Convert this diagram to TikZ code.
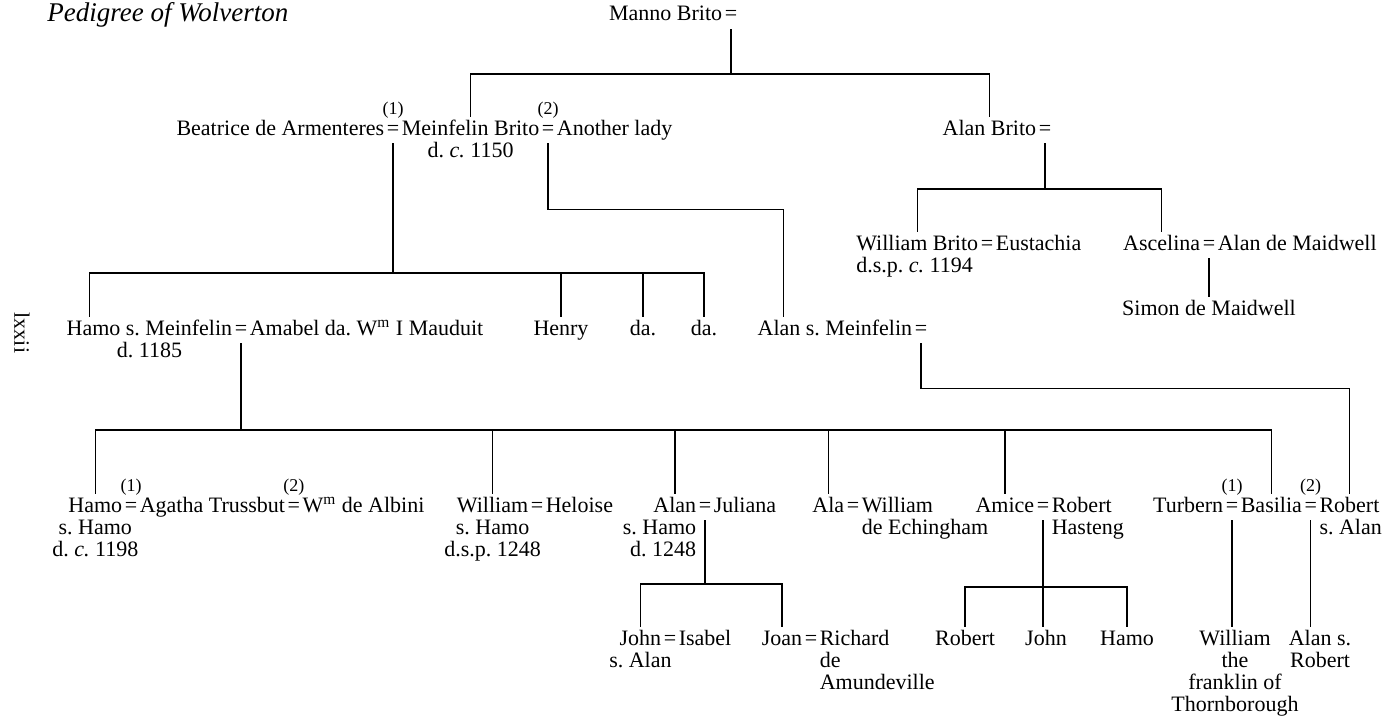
\documentclass[tikz,border=0pt]{standalone}
\usepackage{fontspec}
\setmainfont{Liberation Serif}
\usepackage{tikz}
\usetikzlibrary{positioning}
\frenchspacing

\begin{document}
\begin{tikzpicture}[x=0.5pt,y=-0.5pt,line width=0.7pt,
      font=\fontsize{11}{11}\selectfont,
      person/.style={inner xsep=0.3pt,inner ysep=1.5pt,text height=1.6ex,text depth=0.5ex},
      eq/.style={person}, sub/.style={inner sep=0.3pt},
      marr/.style={font=\fontsize{9}{9}\selectfont,inner sep=0pt}]

    \useasboundingbox (0,0) rectangle (1385,717);
    \node[anchor=base west,font=\fontsize{13.5}{14}\selectfont\itshape] (title) at (40,22) {Pedigree of Wolverton};
    \node[rotate=-90] (folio) at (22,333) {lxxii};

    % bars
    \coordinate (bar1) at (0,74);
    \coordinate (bar2) at (0,273);
    \coordinate (bar3) at (0,430);
    \coordinate (barAB) at (0,189);
    \coordinate (barA) at (0,584);
    \coordinate (barB) at (0,587);

    % first generations
    \node[eq,anchor=base] (mannoeq) at (731,21) {=};
    \node[person,left=0pt of mannoeq] (manno) {Manno Brito};

    \node[eq,anchor=base] (beaeq) at (393,135) {=};
    \node[person,left=0pt of beaeq] (bea) {Beatrice de Armenteres};
    \node[person,right=0pt of beaeq] (meinf) {Meinfelin Brito};
    \node[eq,right=0pt of meinf] (anoeq) {=};
    \node[person,right=0pt of anoeq] (another) {Another lady};
    \node[marr,anchor=base] (m1) at ([yshift=10.5pt]beaeq.base) {(1)};
    \node[marr,anchor=base] (m2) at ([yshift=10.5pt]anoeq.base) {(2)};
    \node[sub,anchor=base] (meinfd) at ([yshift=-11pt]meinf.base) {d. \textit{c.} 1150};

    \node[eq,anchor=base] (alanbeq) at (1045,135) {=};
    \node[person,left=0pt of alanbeq] (alanb) {Alan Brito};

    \node[eq,anchor=base] (wbeq) at (987,250) {=};
    \node[person,left=0pt of wbeq] (wbrito) {William Brito};
    \node[person,right=0pt of wbeq] (eust) {Eustachia};
    \node[sub,anchor=base west] (wbritod) at ([yshift=-11pt]wbrito.base west) {d.s.p. \textit{c.} 1194};
    \node[eq,anchor=base] (asceq) at (1209,250) {=};
    \node[person,left=0pt of asceq] (ascelina) {Ascelina};
    \node[person,right=0pt of asceq] (amaid) {Alan de Maidwell};
    \node[person,anchor=base] (simon) at (1209,315) {Simon de Maidwell};

    % children of Meinfelin
    \node[eq,anchor=base] (hsmeq) at (241,335) {=};
    \node[person,left=0pt of hsmeq] (hsm) {Hamo s. Meinfelin};
    \node[person,right=0pt of hsmeq] (amabel) {Amabel da. W\textsuperscript{m} I Mauduit};
    \node[sub,anchor=base] (hsmd) at ([yshift=-11pt]hsm.base) {d. 1185};
    \node[person,anchor=base] (henry) at (561,335) {Henry};
    \node[person,anchor=base] (da1) at (643,335) {da.};
    \node[person,anchor=base] (da2) at (704,335) {da.};
    \node[eq,anchor=base] (alansmeq) at (921,335) {=};
    \node[person,left=0pt of alansmeq] (alansm) {Alan s. Meinfelin};

    % children of Hamo
    \node[eq,anchor=base] (hamoeq) at (131,512) {=};
    \node[person,left=0pt of hamoeq] (hamo) {Hamo};
    \node[person,right=0pt of hamoeq] (agatha) {Agatha Trussbut};
    \node[eq,right=0pt of agatha] (agathaeq) {=};
    \node[person,right=0pt of agathaeq] (albini) {W\textsuperscript{m} de Albini};
    \node[marr,anchor=base] (h1) at ([yshift=10.5pt]hamoeq.base) {(1)};
    \node[marr,anchor=base] (h2) at ([yshift=10.5pt]agathaeq.base) {(2)};
    \node[sub,anchor=base] (hamos) at ([yshift=-11pt]hamo.base) {s. Hamo};
    \node[sub,anchor=base] (hamod) at ([yshift=-22pt]hamo.base) {d. \textit{c.} 1198};

    \node[eq,anchor=base] (wileq) at (537,512) {=};
    \node[person,left=0pt of wileq] (william) {William};
    \node[person,right=0pt of wileq] (heloise) {Heloise};
    \node[sub,anchor=base] (wils) at ([yshift=-11pt]william.base) {s. Hamo};
    \node[sub,anchor=base] (wild) at ([yshift=-22pt]william.base) {d.s.p. 1248};

    \node[eq,anchor=base] (alaneq) at (705,512) {=};
    \node[person,left=0pt of alaneq] (alan) {Alan};
    \node[person,right=0pt of alaneq] (juliana) {Juliana};
    \node[sub,anchor=base east] (alans) at ([yshift=-11pt]alan.base east) {s. Hamo};
    \node[sub,anchor=base east] (aland) at ([yshift=-22pt]alan.base east) {d. 1248};

    \node[eq,anchor=base] (alaeq) at (853,512) {=};
    \node[person,left=0pt of alaeq] (ala) {Ala};
    \node[person,right=0pt of alaeq] (wech) {William};
    \node[sub,anchor=base west] (wechd) at ([yshift=-11pt]wech.base west) {de Echingham};

    \node[eq,anchor=base] (amiceeq) at (1043,512) {=};
    \node[person,left=0pt of amiceeq] (amice) {Amice};
    \node[person,right=0pt of amiceeq] (rhast) {Robert};
    \node[sub,anchor=base west] (rhastd) at ([yshift=-11pt]rhast.base west) {Hasteng};

    \node[eq,anchor=base] (turbeq) at (1232,512) {=};
    \node[person,left=0pt of turbeq] (turbern) {Turbern};
    \node[person,right=0pt of turbeq] (basilia) {Basilia};
    \node[eq,right=0pt of basilia] (baseq) {=};
    \node[person,right=0pt of baseq] (robert) {Robert};
    \node[sub,anchor=base west] (roberts) at ([yshift=-11pt]robert.base west) {s. Alan};
    \node[marr,anchor=base] (t1) at ([yshift=10.5pt]turbeq.base) {(1)};
    \node[marr,anchor=base] (t2) at ([yshift=10.5pt]baseq.base) {(2)};

    % last generation
    \node[eq,anchor=base] (johneq) at (670,645) {=};
    \node[person,left=0pt of johneq] (john) {John};
    \node[person,right=0pt of johneq] (isabel) {Isabel};
    \node[sub,anchor=base] (johns) at ([yshift=-11pt]john.base) {s. Alan};
    \node[eq,anchor=base] (joaneq) at (811,645) {=};
    \node[person,left=0pt of joaneq] (joan) {Joan};
    \node[person,right=0pt of joaneq] (richard) {Richard};
    \node[sub,anchor=base west] (richd1) at ([yshift=-11pt]richard.base west) {de};
    \node[sub,anchor=base west] (richd2) at ([yshift=-22pt]richard.base west) {Amundeville};

    \node[person,anchor=base] (robert3) at (965,645) {Robert};
    \node[person,anchor=base] (john3) at (1046,645) {John};
    \node[person,anchor=base] (hamo3) at (1127,645) {Hamo};

    \node[person,anchor=base] (wfrank) at (1235,645) {William};
    \node[sub,anchor=base] (wfrank2) at ([yshift=-11pt]wfrank.base) {the};
    \node[sub,anchor=base] (wfrank3) at ([yshift=-22pt]wfrank.base) {franklin of};
    \node[sub,anchor=base] (wfrank4) at ([yshift=-33pt]wfrank.base) {Thornborough};
    \node[person,anchor=base] (alansr) at (1320,645) {Alan s.};
    \node[sub,anchor=base] (alansr2) at ([yshift=-11pt]alansr.base) {Robert};

    % lines of descent
    \draw (mannoeq.south) -- (mannoeq.south |- bar1);
    \draw (meinf.north) |- (bar1 -| alanb.north) -- (alanb.north);
    \draw (beaeq.south) -- (beaeq.south |- bar2);
    \draw ([xshift=12pt]hsm.north west) |- (bar2 -| da2.north) -- (da2.north);
    \foreach \c in {henry,da1}
        \draw (\c.north) -- (\c.north |- bar2);
    \draw (anoeq.south) -- ++(0,66) -| ([xshift=13.5pt]alansm.north west);
    \draw (alanbeq.south) -- (alanbeq.south |- barAB);
    \draw (wbrito.north) |- (barAB -| ascelina.north) -- (ascelina.north);
    \draw (asceq.south) -- (asceq.south |- simon.north);
    \draw (alansmeq.south) -- ++(0,45) -| (robert.north);
    \draw (hsmeq.south) -- (hsmeq.south |- bar3);
    \draw (hamo.north) |- (bar3 -| basilia.north) -- (basilia.north);
    \foreach \c in {william,alan,ala,amice}
        \draw (\c.north) -- (\c.north |- bar3);
    \draw (alaneq.south) -- (alaneq.south |- barA);
    \draw (john.north) |- (barA -| joan.north) -- (joan.north);
    \draw (amiceeq.south) -- (amiceeq.south |- john3.north);
    \draw (robert3.north) |- (barB -| hamo3.north) -- (hamo3.north);
    \draw (turbeq.south) -- (turbeq.south |- wfrank.north);
    \draw (baseq.south) -- (baseq.south |- alansr.north);
\end{tikzpicture}
\end{document}
